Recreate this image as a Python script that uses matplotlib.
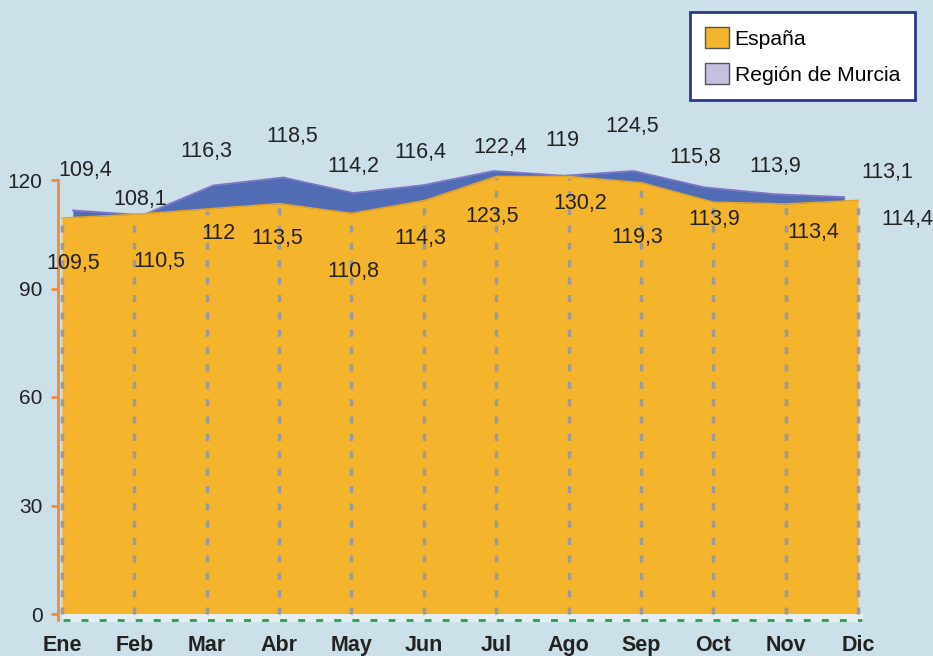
import numpy as np
import matplotlib.pyplot as plt
from matplotlib.patches import Patch

plt.rcParams['font.family'] = ['Liberation Sans', 'DejaVu Sans']

# Data
months = ['Ene', 'Feb', 'Mar', 'Abr', 'May', 'Jun', 'Jul', 'Ago', 'Sep', 'Oct', 'Nov', 'Dic']
espana = [109.5, 110.5, 112, 113.5, 110.8, 114.3, 123.5, 130.2, 119.3, 113.9, 113.4, 114.4]
murcia = [109.4, 108.1, 116.3, 118.5, 114.2, 116.4, 122.4, 119, 124.5, 115.8, 113.9, 113.1]

# Label placement (layout only, data units)
esp_lbl_x = [0.15, 1.35, 2.16, 2.97, 4.02, 4.95, 5.94, 7.16, 7.95, 9.02, 10.38, 11.68]
esp_lbl_y = [96.8, 97.6, 105.1, 103.7, 94.6, 103.7, 109.8, 113.4, 104.2, 109.2, 105.6, 109.2]
mur_lbl_x = [0.32, 1.08, 2.0, 3.18, 4.02, 4.95, 6.05, 6.92, 7.88, 8.75, 9.85, 11.40]
mur_lbl_y = [122.5, 114.7, 128.0, 131.9, 123.6, 127.7, 129.1, 130.8, 134.9, 126.1, 123.6, 122.2]

bg = '#cbe0e8'
orange = '#f4b42c'
blue = '#506cb5'
axis_orange = '#f08a3c'
txt = '#222222'

fig = plt.figure(figsize=(9.33, 6.56), dpi=100, facecolor=bg)
ax = fig.add_axes([62 / 933, 42 / 656, 796 / 933, 434 / 656])
ax.set_facecolor(bg)
ax.set_xlim(0, 11)
ax.set_ylim(0, 120)

x = np.arange(len(months))

# back series (drawn with a small depth offset, clipped at the top)
xb = 0.15 + x * (10.81 - 0.15) / 11
yb = np.minimum(murcia, 120.3) + 2.2
ax.fill_between(xb, 0, yb, color=blue, lw=0, zorder=1, clip_on=False)
ax.plot(xb, yb, color='#7f72c8', lw=1.2, zorder=1, clip_on=False)

# front series
yo = np.minimum(espana, 121)
ax.fill_between(x, 0, yo, color=orange, lw=0, zorder=2, clip_on=False)
ax.plot(x, yo, color='#e2a42a', lw=1, zorder=2, clip_on=False)

# vertical dashed guides
for i in x:
    ax.plot([i, i], [0, yo[i] - 0.5], color='#9a9a9a', lw=2.5, ls=(0, (2, 3)),
            zorder=3, clip_on=False)

# base band with green dashed line
ax.fill_between([0, 11.07], -2.3, 0, color='#e6eff0', lw=0, zorder=2, clip_on=False)
ax.plot([0.02, 11.05], [-1.6, -1.6], color='#2a9e4c', lw=2, ls=(0, (2.5, 4)),
        zorder=3, clip_on=False)

# data labels
for i in x:
    ax.text(esp_lbl_x[i], esp_lbl_y[i], f'{espana[i]:g}'.replace('.', ','),
            ha='center', va='center', fontsize=15.5, color=txt, zorder=5, clip_on=False)
    ax.text(mur_lbl_x[i], mur_lbl_y[i], f'{murcia[i]:g}'.replace('.', ','),
            ha='center', va='center', fontsize=15.5, color=txt, zorder=5, clip_on=False)

# axes styling
for s in ['top', 'right', 'bottom']:
    ax.spines[s].set_visible(False)
ax.spines['left'].set_position(('outward', 3))
ax.spines['left'].set_color(axis_orange)
ax.spines['left'].set_linewidth(2)
ax.spines['left'].set_bounds(-1.6, 120)
ax.set_yticks([0, 30, 60, 90, 120])
ax.tick_params(axis='y', colors=axis_orange, length=5, width=2, pad=6, labelsize=15,
               labelcolor=txt)
ax.set_xticks(x)
ax.set_xticklabels(months, fontsize=15.5, fontweight='bold', color=txt)
ax.tick_params(axis='x', length=0, pad=15)

handles = [Patch(facecolor=orange, edgecolor='#555555', label='España'),
           Patch(facecolor='#c5c0e0', edgecolor='#555555', label='Región de Murcia')]
leg = fig.legend(handles=handles, loc='upper right', bbox_to_anchor=(0.981, 0.982),
                 fontsize=15.2, frameon=True, fancybox=False, handlelength=1.15,
                 handleheight=1.15, handletextpad=0.25, labelspacing=0.7,
                 borderpad=0.72, borderaxespad=0)
leg.get_frame().set_edgecolor('#2b3592')
leg.get_frame().set_linewidth(2)
leg.get_frame().set_facecolor('white')
leg.get_frame().set_alpha(1)

fig.savefig('out.png', dpi=100, facecolor=bg)
